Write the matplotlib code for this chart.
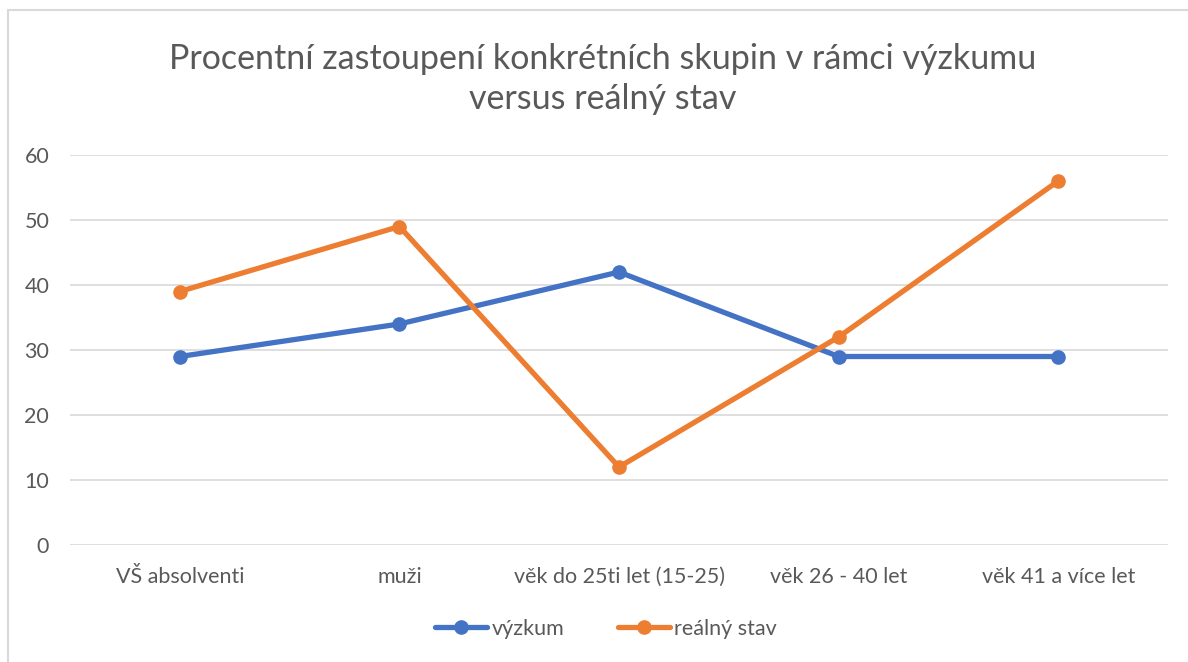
import matplotlib.pyplot as plt
from matplotlib.lines import Line2D

categories = ["VŠ absolventi", "muži", "věk do 25ti let (15-25)", "věk 26 - 40 let", "věk 41 a více let"]
vyzkum = [29, 34, 42, 29, 29]
realny_stav = [39, 49, 12, 32, 56]
yticks = [0, 10, 20, 30, 40, 50, 60]

plt.rcParams['font.family'] = ['Lato', 'DejaVu Sans']
text_col = '#595959'
grid_col = '#d9d9d9'

fig = plt.figure(figsize=(11.88, 6.62), dpi=100)
ax = fig.add_axes([70 / 1188, 117 / 662, 1098 / 1188, 390 / 662])

x = range(len(categories))
ax.plot(x, vyzkum, color='#4472c4', lw=3.8, marker='o', markersize=9.5,
        solid_capstyle='round', label='výzkum', zorder=3)
ax.plot(x, realny_stav, color='#ed7d31', lw=3.8, marker='o', markersize=9.5,
        solid_capstyle='round', label='reálný stav', zorder=3)

ax.set_xlim(-0.5, len(categories) - 0.5)
ax.set_ylim(0, 60)
ax.set_yticks(yticks)
ax.set_xticks(list(x))
ax.set_xticklabels(categories)
ax.yaxis.grid(True, color=grid_col, lw=1.2)
ax.set_axisbelow(True)
for s in ax.spines.values():
    s.set_visible(False)
ax.tick_params(axis='both', length=0, labelsize=15.5, colors=text_col)
ax.tick_params(axis='x', pad=16)
ax.tick_params(axis='y', pad=15)

fig.text(603 / 1188, 1 - 79 / 662,
         "Procentní zastoupení konkrétních skupin v rámci výzkumu\nversus reálný stav",
         ha='center', va='center', fontsize=24.5, color=text_col, linespacing=1.32)

handles = [Line2D([0], [0], color='#4472c4', lw=3.8, marker='o', markersize=9.5,
                  solid_capstyle='round'),
           Line2D([0], [0], color='#ed7d31', lw=3.8, marker='o', markersize=9.5,
                  solid_capstyle='round')]
fig.legend(handles, ['výzkum', 'reálný stav'], loc='center',
           bbox_to_anchor=(606 / 1188, 1 - 629 / 662), ncol=2, frameon=False,
           fontsize=15.5, labelcolor=text_col, handlelength=2.4,
           handletextpad=0.2, columnspacing=2.5)

# chart border (left and top visible)
fig.add_artist(Line2D([8 / 1188, 8 / 1188], [0, 1 - 10 / 662], color=grid_col, lw=1.5))
fig.add_artist(Line2D([8 / 1188, 1], [1 - 10 / 662, 1 - 10 / 662], color=grid_col, lw=1.5))

fig.savefig('out.png', dpi=100)
